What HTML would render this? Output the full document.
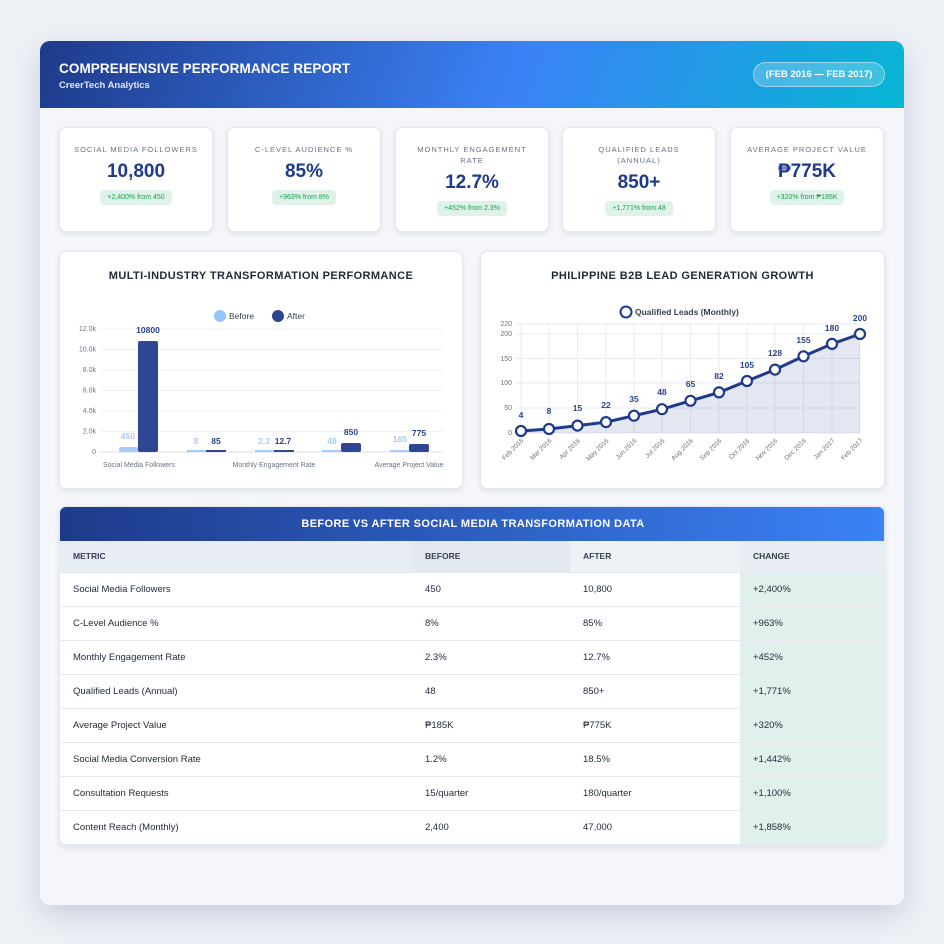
<!DOCTYPE html>
<html><head><meta charset="utf-8"><style>
*{margin:0;padding:0;box-sizing:border-box}
body{width:944px;height:944px;background:#eef1f6;font-family:"Liberation Sans",sans-serif;position:relative;overflow:hidden}
.wrap{position:absolute;left:40px;top:41px;width:864px;height:864px;background:#f4f6fa;border-radius:10px;box-shadow:0 10px 30px rgba(30,50,100,.18);overflow:hidden}
.hdr{position:absolute;left:0;top:0;width:864px;height:67px;background:linear-gradient(110deg,#1e3a8a 0%,#3b82f6 55%,#06b6d4 100%)}
.hdr h1{position:absolute;left:19px;top:20px;color:#fff;font-size:13.5px;font-weight:bold;letter-spacing:.1px}
.hdr .sub{position:absolute;left:19px;top:39px;color:#e0e8ff;font-size:9.5px;font-weight:bold}
.pill{position:absolute;left:713px;top:21px;width:132px;height:25px;border-radius:13px;background:rgba(255,255,255,.22);border:1px solid rgba(255,255,255,.45);color:#fff;font-size:9.5px;font-weight:bold;text-align:center;line-height:23px}
.card{position:absolute;background:#fff;border:1px solid #e2e6ee;border-radius:7px;box-shadow:0 2px 6px rgba(30,50,100,.1)}
.kpi{top:86px;width:154px;height:105px;text-align:center}
.kpi .t{font-size:7.5px;color:#64748b;letter-spacing:1px;margin-top:16px;line-height:11px;padding:0 14px}
.kpi .v{font-size:19px;font-weight:bold;color:#1e3a8a;margin-top:6px}
.kpi .b{display:inline-block;margin-top:7px;background:#dff2ea;color:#16a34a;font-size:7px;padding:4px 7px;border-radius:4px}
.ct{position:absolute;width:100%;text-align:center;top:18px;font-size:11px;font-weight:bold;color:#1f2937;letter-spacing:.4px}
table{position:absolute;left:0;top:34px;width:824px;border-collapse:collapse;font-size:9.5px;color:#1f2937}
td,th{height:34px;padding-left:13px;text-align:left;border-bottom:1px solid #e5e8ee}
th{height:31px;font-size:8.5px;color:#374151;background:#e8ecf3;font-weight:bold}
td.c{background:#e0f0ec}
th.c{background:#e8ecf3}
</style></head><body>
<div class="wrap">
 <div class="hdr"><h1>COMPREHENSIVE PERFORMANCE REPORT</h1><div class="sub">CreerTech Analytics</div><div class="pill">(FEB 2016 — FEB 2017)</div></div>
 <div class="card kpi" style="left:19px"><div class="t">SOCIAL MEDIA FOLLOWERS</div><div class="v">10,800</div><div class="b">+2,400% from 450</div></div>
 <div class="card kpi" style="left:187px"><div class="t">C-LEVEL AUDIENCE %</div><div class="v">85%</div><div class="b">+963% from 8%</div></div>
 <div class="card kpi" style="left:355px"><div class="t">MONTHLY ENGAGEMENT RATE</div><div class="v">12.7%</div><div class="b">+452% from 2.3%</div></div>
 <div class="card kpi" style="left:522px"><div class="t">QUALIFIED LEADS (ANNUAL)</div><div class="v">850+</div><div class="b">+1,771% from 48</div></div>
 <div class="card kpi" style="left:690px"><div class="t">AVERAGE PROJECT VALUE</div><div class="v">₱775K</div><div class="b">+320% from ₱185K</div></div>

 <div class="card" style="left:19px;top:210px;width:404px;height:238px"><div class="ct">MULTI-INDUSTRY TRANSFORMATION PERFORMANCE</div></div>
 <div class="card" style="left:440px;top:210px;width:405px;height:238px"><div class="ct">PHILIPPINE B2B LEAD GENERATION GROWTH</div></div>

 <div class="card" style="left:19px;top:465px;width:826px;height:340px;overflow:hidden">
  <div style="position:absolute;left:0;top:0;width:826px;height:34px;background:linear-gradient(90deg,#1e3a8a,#3b82f6);color:#fff;font-size:11px;font-weight:bold;text-align:center;line-height:34px;letter-spacing:.4px">BEFORE VS AFTER SOCIAL MEDIA TRANSFORMATION DATA</div>
  <table>
   <tr><th style="width:352px">METRIC</th><th style="width:158px;background:#e4e9f1">BEFORE</th><th style="width:170px;background:#eef1f6">AFTER</th><th class="c">CHANGE</th></tr>
   <tr><td>Social Media Followers</td><td>450</td><td>10,800</td><td class="c">+2,400%</td></tr>
   <tr><td>C-Level Audience %</td><td>8%</td><td>85%</td><td class="c">+963%</td></tr>
   <tr><td>Monthly Engagement Rate</td><td>2.3%</td><td>12.7%</td><td class="c">+452%</td></tr>
   <tr><td>Qualified Leads (Annual)</td><td>48</td><td>850+</td><td class="c">+1,771%</td></tr>
   <tr><td>Average Project Value</td><td>₱185K</td><td>₱775K</td><td class="c">+320%</td></tr>
   <tr><td>Social Media Conversion Rate</td><td>1.2%</td><td>18.5%</td><td class="c">+1,442%</td></tr>
   <tr><td>Consultation Requests</td><td>15/quarter</td><td>180/quarter</td><td class="c">+1,100%</td></tr>
   <tr><td>Content Reach (Monthly)</td><td>2,400</td><td>47,000</td><td class="c">+1,858%</td></tr>
  </table>
 </div>
</div>

<svg width="944" height="944" style="position:absolute;left:0;top:0" font-family="Liberation Sans, sans-serif">
 <g stroke="#edf0f4" stroke-width="1">
  <line x1="100" x2="443" y1="329" y2="329"/><line x1="100" x2="443" y1="349.5" y2="349.5"/><line x1="100" x2="443" y1="370" y2="370"/><line x1="100" x2="443" y1="390.5" y2="390.5"/><line x1="100" x2="443" y1="411" y2="411"/><line x1="100" x2="443" y1="431.5" y2="431.5"/>
 </g>
 <line x1="100" x2="443" y1="452" y2="452" stroke="#d8dce3"/>
 <g font-size="7" fill="#6b7280" text-anchor="end">
  <text x="96" y="331">12.0k</text><text x="96" y="351.5">10.0k</text><text x="96" y="372">8.0k</text><text x="96" y="392.5">6.0k</text><text x="96" y="413">4.0k</text><text x="96" y="433.5">2.0k</text><text x="96" y="454">0</text>
 </g>
 <circle cx="220" cy="316" r="6" fill="#93c5fd"/><text x="229" y="319" font-size="8.5" fill="#374151">Before</text>
 <circle cx="278" cy="316" r="6" fill="#2b4590"/><text x="287" y="319" font-size="8.5" fill="#374151">After</text>
 <g fill="#a5cdfb">
  <rect x="119" y="447" width="19" height="5" rx="2"/><rect x="187" y="450" width="19" height="2"/><rect x="255" y="450" width="19" height="2"/><rect x="322" y="450" width="19" height="2"/><rect x="390" y="450" width="19" height="2"/>
 </g>
 <g fill="#2f4792">
  <rect x="138" y="341" width="20" height="111" rx="2"/><rect x="206" y="450" width="20" height="2"/><rect x="274" y="450" width="20" height="2"/><rect x="341" y="443" width="20" height="9" rx="2"/><rect x="409" y="444" width="20" height="8" rx="2"/>
 </g>
 <g font-size="8.5" font-weight="bold" text-anchor="middle">
  <g fill="#a5cdfb"><text x="128" y="439">450</text><text x="196" y="444">8</text><text x="264" y="444">2.3</text><text x="332" y="444">48</text><text x="400" y="442">185</text></g>
  <g fill="#2b4590"><text x="148" y="333">10800</text><text x="216" y="444">85</text><text x="283" y="444">12.7</text><text x="351" y="435">850</text><text x="419" y="436">775</text></g>
 </g>
 <g font-size="7" fill="#6b7280" text-anchor="middle"><text x="139" y="467">Social Media Followers</text><text x="274" y="467">Monthly Engagement Rate</text><text x="409" y="467">Average Project Value</text></g>

 <g stroke="#e8ebf0" stroke-width="1">
  <line x1="515" x2="860" y1="324" y2="324"/><line x1="515" x2="860" y1="334" y2="334"/><line x1="515" x2="860" y1="358.5" y2="358.5"/><line x1="515" x2="860" y1="383" y2="383"/><line x1="515" x2="860" y1="408" y2="408"/><line x1="515" x2="860" y1="433" y2="433"/>
  <line x1="521" x2="521" y1="324" y2="433"/><line x1="549" x2="549" y1="324" y2="433"/><line x1="577.5" x2="577.5" y1="324" y2="433"/><line x1="606" x2="606" y1="324" y2="433"/><line x1="634" x2="634" y1="324" y2="433"/><line x1="662" x2="662" y1="324" y2="433"/><line x1="690.5" x2="690.5" y1="324" y2="433"/><line x1="719" x2="719" y1="324" y2="433"/><line x1="747" x2="747" y1="324" y2="433"/><line x1="775" x2="775" y1="324" y2="433"/><line x1="803.5" x2="803.5" y1="324" y2="433"/><line x1="832" x2="832" y1="324" y2="433"/><line x1="860" x2="860" y1="324" y2="433"/>
 </g>
 <g font-size="7" fill="#6b7280" text-anchor="end">
  <text x="512" y="326">220</text><text x="512" y="336">200</text><text x="512" y="361">150</text><text x="512" y="385">100</text><text x="512" y="410">50</text><text x="512" y="435">0</text>
 </g>
 <circle cx="626" cy="312" r="5.5" fill="#fff" stroke="#1e3a8a" stroke-width="2"/><text x="635" y="315" font-size="8.5" font-weight="bold" fill="#374151">Qualified Leads (Monthly)</text>
 <polygon fill="#1e3a8a" fill-opacity=".12" points="521,431 549,429 577.5,425.6 606,422.1 634,415.7 662,409.2 690.5,400.8 719,392.4 747,381 775,369.6 803.5,356.3 832,343.9 860,334 860,433 521,433"/>
 <polyline fill="none" stroke="#1e3a8a" stroke-width="3" points="521,431 549,429 577.5,425.6 606,422.1 634,415.7 662,409.2 690.5,400.8 719,392.4 747,381 775,369.6 803.5,356.3 832,343.9 860,334"/>
 <g fill="#fff" stroke="#1e3a8a" stroke-width="2.2">
  <circle cx="521" cy="431" r="5"/><circle cx="549" cy="429" r="5"/><circle cx="577.5" cy="425.6" r="5"/><circle cx="606" cy="422.1" r="5"/><circle cx="634" cy="415.7" r="5"/><circle cx="662" cy="409.2" r="5"/><circle cx="690.5" cy="400.8" r="5"/><circle cx="719" cy="392.4" r="5"/><circle cx="747" cy="381" r="5"/><circle cx="775" cy="369.6" r="5"/><circle cx="803.5" cy="356.3" r="5"/><circle cx="832" cy="343.9" r="5"/><circle cx="860" cy="334" r="5"/>
 </g>
 <g font-size="8.5" font-weight="bold" fill="#2b4590" text-anchor="middle">
  <text x="521" y="418">4</text><text x="549" y="414">8</text><text x="577.5" y="411">15</text><text x="606" y="408">22</text><text x="634" y="402">35</text><text x="662" y="395">48</text><text x="690.5" y="387">65</text><text x="719" y="379">82</text><text x="747" y="368">105</text><text x="775" y="356">128</text><text x="803.5" y="343">155</text><text x="832" y="331">180</text><text x="860" y="321">200</text>
 </g>
 <g font-size="6.5" fill="#6b7280" text-anchor="end">
  <text transform="translate(524,441) rotate(-45)">Feb 2016</text><text transform="translate(552,441) rotate(-45)">Mar 2016</text><text transform="translate(580.5,441) rotate(-45)">Apr 2016</text><text transform="translate(609,441) rotate(-45)">May 2016</text><text transform="translate(637,441) rotate(-45)">Jun 2016</text><text transform="translate(665,441) rotate(-45)">Jul 2016</text><text transform="translate(693.5,441) rotate(-45)">Aug 2016</text><text transform="translate(722,441) rotate(-45)">Sep 2016</text><text transform="translate(750,441) rotate(-45)">Oct 2016</text><text transform="translate(778,441) rotate(-45)">Nov 2016</text><text transform="translate(806.5,441) rotate(-45)">Dec 2016</text><text transform="translate(835,441) rotate(-45)">Jan 2017</text><text transform="translate(863,441) rotate(-45)">Feb 2017</text>
 </g>
</svg>
</body></html>
